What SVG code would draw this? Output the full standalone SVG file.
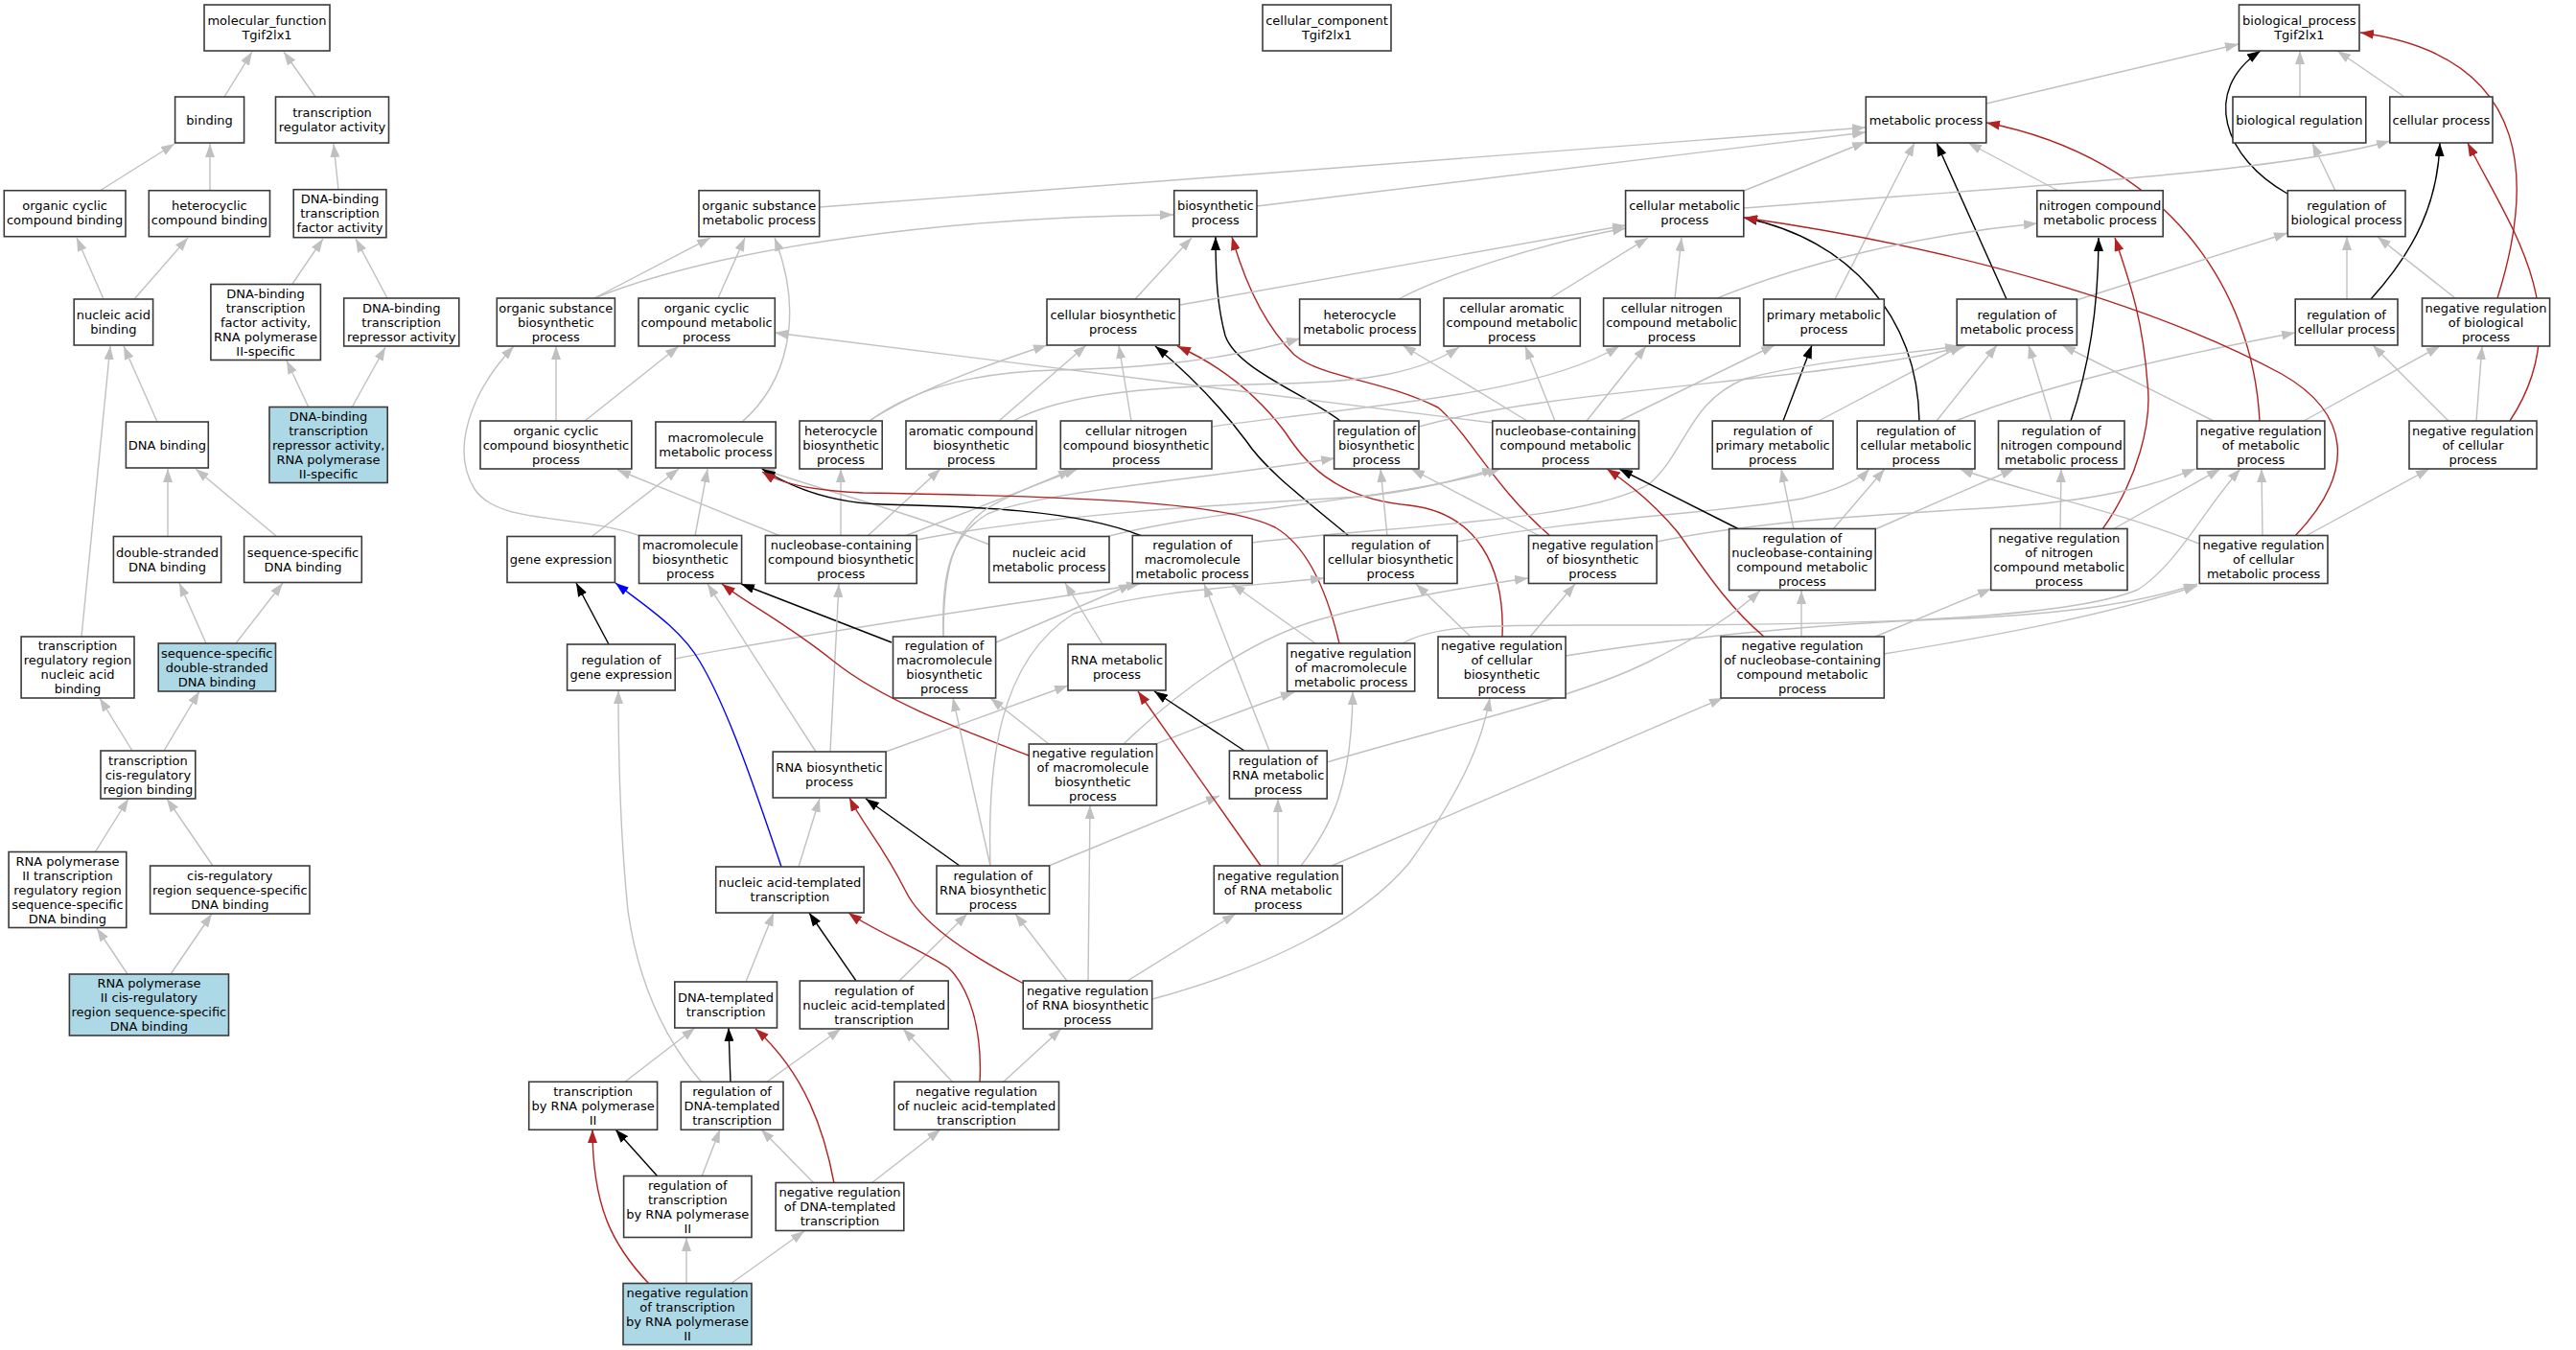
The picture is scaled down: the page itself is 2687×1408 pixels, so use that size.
<svg xmlns="http://www.w3.org/2000/svg" width="2687" height="1408" viewBox="0 0 2687 1408">
<style>
.n rect{fill:#fff;stroke:#3a3a3a;stroke-width:1.6}
.n.hl rect{fill:#add8e6}
text{font-family:"DejaVu Sans","Liberation Sans",sans-serif;font-size:13px;text-anchor:middle;fill:#000}
#edges path{fill:none;stroke-width:1.4}
.g{stroke:#c0c0c0;marker-end:url(#mg)}
.k{stroke:#000;marker-end:url(#mk)}
.r{stroke:#b22222;marker-end:url(#mr)}
.b{stroke:#0000ff;marker-end:url(#mb)}
</style>
<defs>
<marker id="mg" viewBox="0 0 14 10" refX="14" refY="5" markerWidth="14" markerHeight="10" markerUnits="userSpaceOnUse" orient="auto"><path d="M0,0L14,5L0,10z" fill="#c0c0c0"/></marker>
<marker id="mk" viewBox="0 0 14 10" refX="14" refY="5" markerWidth="14" markerHeight="10" markerUnits="userSpaceOnUse" orient="auto"><path d="M0,0L14,5L0,10z" fill="#000"/></marker>
<marker id="mr" viewBox="0 0 14 10" refX="14" refY="5" markerWidth="14" markerHeight="10" markerUnits="userSpaceOnUse" orient="auto"><path d="M0,0L14,5L0,10z" fill="#b22222"/></marker>
<marker id="mb" viewBox="0 0 14 10" refX="14" refY="5" markerWidth="14" markerHeight="10" markerUnits="userSpaceOnUse" orient="auto"><path d="M0,0L14,5L0,10z" fill="#0000ff"/></marker>
</defs>
<rect width="2687" height="1408" fill="#fff"/>
<g id="edges">
<path class="g" d="M234,101L263,54"/>
<path class="g" d="M329,101L296,54"/>
<path class="g" d="M104,199L182,150"/>
<path class="g" d="M219,199L219,150"/>
<path class="g" d="M353,198L348,150"/>
<path class="g" d="M108,312L80,248"/>
<path class="g" d="M140,312L196,248"/>
<path class="g" d="M305,296L337,249"/>
<path class="g" d="M404,311L371,249"/>
<path class="g" d="M322,425L299,376"/>
<path class="g" d="M367,425L402,362"/>
<path class="g" d="M164,440L129,361"/>
<path class="g" d="M85,664L115,361"/>
<path class="g" d="M175,559L175,489"/>
<path class="g" d="M288,559L204,489"/>
<path class="g" d="M215,671L187,608"/>
<path class="g" d="M246,671L295,608"/>
<path class="g" d="M138,783L104,728"/>
<path class="g" d="M171,783L208,721"/>
<path class="g" d="M99,889L134,833"/>
<path class="g" d="M222,903L174,833"/>
<path class="g" d="M133,1016L101,968"/>
<path class="g" d="M178,1016L221,953"/>
<path class="g" d="M2072,108L2335,46"/>
<path class="g" d="M2399,101L2399,53"/>
<path class="g" d="M2508,101L2438,53"/>
<path class="k" d="M2386,202C2320,165 2295,95 2358,53"/>
<path class="r" d="M2605,311C2640,200 2650,60 2462,34"/>
<path class="g" d="M855,216L1946,133"/>
<path class="g" d="M1311,215L1946,138"/>
<path class="g" d="M1819,199L1946,148"/>
<path class="g" d="M1914,312L1997,149"/>
<path class="g" d="M2147,199L2053,149"/>
<path class="k" d="M2093,312L2020,149"/>
<path class="r" d="M2357,439C2350,300 2260,165 2072,128"/>
<path class="g" d="M1819,217C2100,195 2380,180 2493,147"/>
<path class="g" d="M2436,199L2412,149"/>
<path class="k" d="M2473,312C2520,260 2543,210 2545,149"/>
<path class="r" d="M2618,439C2690,330 2620,240 2574,149"/>
<path class="g" d="M2166,313L2386,243"/>
<path class="g" d="M2448,312L2448,247"/>
<path class="g" d="M2561,311L2480,247"/>
<path class="g" d="M2040,439C2150,395 2300,365 2394,347"/>
<path class="g" d="M2020,439L2083,360"/>
<path class="g" d="M2140,439L2116,360"/>
<path class="g" d="M2309,439L2151,360"/>
<path class="g" d="M2403,439L2545,361"/>
<path class="g" d="M2554,439L2475,360"/>
<path class="g" d="M2583,439L2589,361"/>
<path class="g" d="M1897,439L2047,360"/>
<path class="k" d="M1860,439L1890,360"/>
<path class="k" d="M2002,439C2000,330 1930,250 1819,227"/>
<path class="r" d="M2394,559C2460,490 2450,430 2380,390C2250,320 2050,260 1819,227"/>
<path class="r" d="M2193,552C2230,500 2245,440 2240,400C2235,330 2220,290 2206,248"/>
<path class="k" d="M2160,439C2180,380 2189,320 2189,248"/>
<path class="r" d="M1617,559C1560,510 1530,450 1500,425C1440,395 1380,395 1350,370C1320,340 1300,300 1285,247"/>
<path class="k" d="M1398,439C1360,410 1290,385 1278,350C1270,320 1268,290 1268,247"/>
<path class="k" d="M1407,559C1360,520 1320,490 1300,460C1270,420 1240,390 1205,361"/>
<path class="r" d="M1567,664C1570,590 1540,535 1470,527C1390,520 1360,480 1340,450C1310,410 1270,380 1228,361"/>
<path class="g" d="M620,311C760,255 1000,226 1224,224"/>
<path class="g" d="M620,311L741,248"/>
<path class="g" d="M749,311L777,248"/>
<path class="g" d="M774,440C820,400 840,330 808,248"/>
<path class="g" d="M1184,312L1243,248"/>
<path class="g" d="M1231,318L1696,235"/>
<path class="g" d="M1459,312C1500,290 1600,255 1696,238"/>
<path class="g" d="M1617,311L1719,248"/>
<path class="g" d="M1747,311L1754,248"/>
<path class="g" d="M1791,311C1880,275 2000,245 2125,233"/>
<path class="g" d="M580,439L580,361"/>
<path class="g" d="M610,439L708,361"/>
<path class="g" d="M907,439C950,410 1030,380 1092,360"/>
<path class="g" d="M907,439C960,400 1030,388 1100,386C1200,384 1280,375 1356,353"/>
<path class="g" d="M1042,439L1133,360"/>
<path class="g" d="M1057,439C1110,410 1200,403 1340,400C1420,398 1480,390 1522,362"/>
<path class="g" d="M1180,439L1167,360"/>
<path class="g" d="M1264,445C1400,425 1600,415 1689,361"/>
<path class="g" d="M1480,445C1620,405 1900,398 2050,361"/>
<path class="g" d="M1593,439L1463,360"/>
<path class="g" d="M1622,439L1591,361"/>
<path class="g" d="M1655,439L1717,361"/>
<path class="g" d="M1689,439L1851,360"/>
<path class="g" d="M1557,441L808,347"/>
<path class="g" d="M618,559L708,489"/>
<path class="g" d="M725,559L738,489"/>
<path class="g" d="M668,559C600,535 520,548 495,510C470,470 490,410 536,361"/>
<path class="g" d="M814,559L644,490"/>
<path class="g" d="M877,559L877,489"/>
<path class="g" d="M905,559L981,489"/>
<path class="g" d="M944,559L1124,489"/>
<path class="g" d="M956,563C1100,535 1300,525 1420,518C1480,512 1520,500 1560,489"/>
<path class="g" d="M1146,562C1260,530 1460,522 1565,489"/>
<path class="g" d="M1032,568C950,535 870,515 794,489"/>
<path class="k" d="M1191,559C1120,530 1000,528 920,526C860,524 820,505 795,489"/>
<path class="g" d="M1306,566C1450,548 1650,545 1720,505C1760,470 1760,420 1820,395C1900,375 1980,370 2043,361"/>
<path class="g" d="M1447,559L1440,489"/>
<path class="g" d="M1520,565C1650,540 1800,535 1880,520C1920,510 1940,500 1950,489"/>
<path class="g" d="M1606,559L1472,489"/>
<path class="g" d="M1728,565C1850,540 2000,535 2100,528C2200,520 2250,505 2290,489"/>
<path class="k" d="M1814,552L1689,489"/>
<path class="g" d="M1871,552L1858,489"/>
<path class="g" d="M1912,552L1966,489"/>
<path class="g" d="M1956,552L2101,489"/>
<path class="g" d="M2149,552L2150,489"/>
<path class="g" d="M2204,552L2316,489"/>
<path class="g" d="M2294,567C2200,530 2100,510 2044,489"/>
<path class="g" d="M2360,559L2359,489"/>
<path class="g" d="M2405,559L2534,489"/>
<path class="k" d="M635,672L601,608"/>
<path class="g" d="M704,687C900,650 1100,625 1189,609"/>
<path class="k" d="M930,670L773,609"/>
<path class="g" d="M1039,670L1181,609"/>
<path class="g" d="M984,664C982,600 990,560 1030,536C1090,512 1250,500 1392,478"/>
<path class="g" d="M984,664C984,600 992,555 1030,530C1060,512 1095,500 1118,490"/>
<path class="g" d="M1150,672L1111,608"/>
<path class="g" d="M1372,671L1285,609"/>
<path class="g" d="M1463,671C1500,650 1560,652 1700,652C1900,652 2150,648 2230,615C2270,590 2300,530 2337,489"/>
<path class="r" d="M1397,671C1385,620 1365,570 1330,550C1280,525 1150,518 900,514C850,512 815,505 795,492"/>
<path class="g" d="M1534,664L1477,609"/>
<path class="g" d="M1596,664L1643,609"/>
<path class="g" d="M1633,684C1750,665 1900,650 2050,645C2150,640 2230,630 2292,609"/>
<path class="g" d="M1879,664L1879,616"/>
<path class="g" d="M1965,682C2100,660 2200,640 2292,611"/>
<path class="g" d="M1956,664L2077,614"/>
<path class="r" d="M1840,664C1800,630 1775,590 1750,555C1725,525 1700,505 1676,489"/>
<path class="g" d="M851,784L738,609"/>
<path class="g" d="M866,784L875,609"/>
<path class="g" d="M924,784L1114,715"/>
<path class="g" d="M1094,776L1033,728"/>
<path class="g" d="M1200,778C1260,755 1310,735 1350,722"/>
<path class="g" d="M1172,776C1230,720 1300,670 1370,648C1450,625 1530,612 1594,603"/>
<path class="r" d="M1073,788C1000,760 920,730 870,690C820,650 780,630 753,609"/>
<path class="k" d="M1298,783L1204,721"/>
<path class="g" d="M1384,795C1500,760 1640,730 1720,690C1780,660 1810,640 1836,616"/>
<path class="g" d="M1324,783L1256,609"/>
<path class="g" d="M833,904L855,833"/>
<path class="b" d="M815,904C790,830 760,740 730,690C710,655 670,630 642,608"/>
<path class="k" d="M1001,903L903,833"/>
<path class="g" d="M1033,903L994,728"/>
<path class="g" d="M1033,903C1030,800 1040,690 1120,640C1200,615 1300,612 1381,603"/>
<path class="g" d="M1094,903L1272,830"/>
<path class="g" d="M1333,903L1333,833"/>
<path class="r" d="M1315,903L1187,721"/>
<path class="g" d="M1389,903L1797,728"/>
<path class="g" d="M1357,903C1390,860 1410,820 1411,721"/>
<path class="g" d="M778,1024L807,952"/>
<path class="k" d="M893,1023L844,952"/>
<path class="g" d="M938,1023L1009,953"/>
<path class="g" d="M1113,1023L1059,953"/>
<path class="g" d="M1176,1023L1289,953"/>
<path class="g" d="M1202,1042C1320,1010 1420,960 1470,900C1520,830 1545,780 1554,728"/>
<path class="g" d="M1135,1023L1137,840"/>
<path class="r" d="M1068,1026C1000,990 960,960 945,930C920,880 900,860 886,832"/>
<path class="g" d="M651,1129L725,1072"/>
<path class="k" d="M762,1129L760,1072"/>
<path class="g" d="M799,1129L877,1073"/>
<path class="g" d="M732,1129C690,1080 665,1020 655,950C648,880 645,800 645,720"/>
<path class="g" d="M994,1129L942,1073"/>
<path class="g" d="M1046,1129L1107,1073"/>
<path class="r" d="M1022,1129C1025,1070 1010,1030 990,1010C960,990 910,970 885,952"/>
<path class="k" d="M686,1227L642,1178"/>
<path class="g" d="M732,1227L751,1178"/>
<path class="g" d="M849,1234L794,1178"/>
<path class="g" d="M909,1234L981,1178"/>
<path class="r" d="M870,1234C860,1180 840,1120 788,1073"/>
<path class="g" d="M716,1339L716,1291"/>
<path class="g" d="M762,1339L839,1284"/>
<path class="r" d="M677,1339C640,1300 618,1260 618,1178"/>
</g>
<g id="n-mf" class="n"><rect x="213" y="5" width="131" height="48"/><text><tspan x="278.5" y="26">molecular_function</tspan><tspan x="278.5" y="41">Tgif2lx1</tspan></text></g>
<g id="n-cc" class="n"><rect x="1317" y="5" width="134" height="48"/><text><tspan x="1384" y="26">cellular_component</tspan><tspan x="1384" y="41">Tgif2lx1</tspan></text></g>
<g id="n-bp" class="n"><rect x="2335.5" y="5" width="125.5" height="48"/><text><tspan x="2398.3" y="26">biological_process</tspan><tspan x="2398.3" y="41">Tgif2lx1</tspan></text></g>
<g id="n-bind" class="n"><rect x="182.6" y="101" width="72" height="48"/><text><tspan x="218.6" y="129.5">binding</tspan></text></g>
<g id="n-tra" class="n"><rect x="287.5" y="101" width="118" height="48"/><text><tspan x="346.5" y="122">transcription</tspan><tspan x="346.5" y="137">regulator activity</tspan></text></g>
<g id="n-mp" class="n"><rect x="1946.3" y="101" width="125.5" height="48"/><text><tspan x="2009" y="129.5">metabolic process</tspan></text></g>
<g id="n-breg" class="n"><rect x="2329" y="101" width="138.8" height="48"/><text><tspan x="2398.4" y="129.5">biological regulation</tspan></text></g>
<g id="n-cp" class="n"><rect x="2492.8" y="101" width="107.2" height="48"/><text><tspan x="2546.4" y="129.5">cellular process</tspan></text></g>
<g id="n-occb" class="n"><rect x="4.3" y="198.7" width="126.7" height="48"/><text><tspan x="67.6" y="219.2">organic cyclic</tspan><tspan x="67.6" y="234.2">compound binding</tspan></text></g>
<g id="n-hcb" class="n"><rect x="155.3" y="198.7" width="126.2" height="48"/><text><tspan x="218.4" y="219.2">heterocyclic</tspan><tspan x="218.4" y="234.2">compound binding</tspan></text></g>
<g id="n-dbtfa" class="n"><rect x="306.2" y="197.7" width="96.7" height="50"/><text><tspan x="354.5" y="211.7">DNA-binding</tspan><tspan x="354.5" y="226.7">transcription</tspan><tspan x="354.5" y="241.7">factor activity</tspan></text></g>
<g id="n-osmp" class="n"><rect x="729" y="198.7" width="125.7" height="48"/><text><tspan x="791.8" y="219.2">organic substance</tspan><tspan x="791.8" y="234.2">metabolic process</tspan></text></g>
<g id="n-bsp" class="n"><rect x="1224.7" y="198.7" width="86.3" height="48"/><text><tspan x="1267.8" y="219.2">biosynthetic</tspan><tspan x="1267.8" y="234.2">process</tspan></text></g>
<g id="n-cmp" class="n"><rect x="1695.6" y="198.7" width="123.2" height="48"/><text><tspan x="1757.2" y="219.2">cellular metabolic</tspan><tspan x="1757.2" y="234.2">process</tspan></text></g>
<g id="n-ncmp" class="n"><rect x="2124.8" y="198.7" width="131.4" height="48"/><text><tspan x="2190.5" y="219.2">nitrogen compound</tspan><tspan x="2190.5" y="234.2">metabolic process</tspan></text></g>
<g id="n-rbiop" class="n"><rect x="2386.3" y="198.7" width="122.7" height="48"/><text><tspan x="2447.6" y="219.2">regulation of</tspan><tspan x="2447.6" y="234.2">biological process</tspan></text></g>
<g id="n-nab" class="n"><rect x="77.2" y="312" width="82.4" height="48"/><text><tspan x="118.4" y="332.5">nucleic acid</tspan><tspan x="118.4" y="347.5">binding</tspan></text></g>
<g id="n-dbtf2" class="n"><rect x="219.9" y="296.5" width="114.5" height="79"/><text><tspan x="277.1" y="310.5">DNA-binding</tspan><tspan x="277.1" y="325.5">transcription</tspan><tspan x="277.1" y="340.5">factor activity,</tspan><tspan x="277.1" y="355.5">RNA polymerase</tspan><tspan x="277.1" y="370.5">II-specific</tspan></text></g>
<g id="n-dbtra" class="n"><rect x="358.7" y="311" width="120.1" height="50"/><text><tspan x="418.7" y="325.5">DNA-binding</tspan><tspan x="418.7" y="340.5">transcription</tspan><tspan x="418.7" y="355.5">repressor activity</tspan></text></g>
<g id="n-osbp" class="n"><rect x="518.3" y="311" width="123.1" height="50"/><text><tspan x="579.8" y="325.5">organic substance</tspan><tspan x="579.8" y="340.5">biosynthetic</tspan><tspan x="579.8" y="355.5">process</tspan></text></g>
<g id="n-occmp" class="n"><rect x="666" y="311" width="142.3" height="50"/><text><tspan x="737.1" y="325.5">organic cyclic</tspan><tspan x="737.1" y="340.5">compound metabolic</tspan><tspan x="737.1" y="355.5">process</tspan></text></g>
<g id="n-cbp" class="n"><rect x="1092" y="312" width="138.3" height="48"/><text><tspan x="1161.1" y="332.5">cellular biosynthetic</tspan><tspan x="1161.1" y="347.5">process</tspan></text></g>
<g id="n-hmp" class="n"><rect x="1355.6" y="312" width="125.7" height="48"/><text><tspan x="1418.4" y="332.5">heterocycle</tspan><tspan x="1418.4" y="347.5">metabolic process</tspan></text></g>
<g id="n-camp" class="n"><rect x="1506" y="311" width="142.3" height="50"/><text><tspan x="1577.1" y="325.5">cellular aromatic</tspan><tspan x="1577.1" y="340.5">compound metabolic</tspan><tspan x="1577.1" y="355.5">process</tspan></text></g>
<g id="n-cncmp" class="n"><rect x="1672.6" y="311" width="142.3" height="50"/><text><tspan x="1743.7" y="325.5">cellular nitrogen</tspan><tspan x="1743.7" y="340.5">compound metabolic</tspan><tspan x="1743.7" y="355.5">process</tspan></text></g>
<g id="n-pmp" class="n"><rect x="1839.6" y="312" width="125.7" height="48"/><text><tspan x="1902.4" y="332.5">primary metabolic</tspan><tspan x="1902.4" y="347.5">process</tspan></text></g>
<g id="n-rmp" class="n"><rect x="2041.2" y="312" width="125.2" height="48"/><text><tspan x="2103.8" y="332.5">regulation of</tspan><tspan x="2103.8" y="347.5">metabolic process</tspan></text></g>
<g id="n-rcp" class="n"><rect x="2394.2" y="312" width="106.8" height="48"/><text><tspan x="2447.6" y="332.5">regulation of</tspan><tspan x="2447.6" y="347.5">cellular process</tspan></text></g>
<g id="n-nrbp" class="n"><rect x="2526.5" y="311" width="133.1" height="50"/><text><tspan x="2593" y="325.5">negative regulation</tspan><tspan x="2593" y="340.5">of biological</tspan><tspan x="2593" y="355.5">process</tspan></text></g>
<g id="n-dnab" class="n"><rect x="131.4" y="440" width="85.9" height="48"/><text><tspan x="174.3" y="468.5">DNA binding</tspan></text></g>
<g id="n-dbtr2" class="n hl"><rect x="281" y="424.5" width="123.2" height="79"/><text><tspan x="342.6" y="438.5">DNA-binding</tspan><tspan x="342.6" y="453.5">transcription</tspan><tspan x="342.6" y="468.5">repressor activity,</tspan><tspan x="342.6" y="483.5">RNA polymerase</tspan><tspan x="342.6" y="498.5">II-specific</tspan></text></g>
<g id="n-occbp" class="n"><rect x="501" y="439" width="157.8" height="50"/><text><tspan x="579.9" y="453.5">organic cyclic</tspan><tspan x="579.9" y="468.5">compound biosynthetic</tspan><tspan x="579.9" y="483.5">process</tspan></text></g>
<g id="n-mmp" class="n"><rect x="683.9" y="440" width="125.3" height="48"/><text><tspan x="746.5" y="461">macromolecule</tspan><tspan x="746.5" y="476">metabolic process</tspan></text></g>
<g id="n-hbp" class="n"><rect x="834" y="439" width="86.2" height="50"/><text><tspan x="877.1" y="453.5">heterocycle</tspan><tspan x="877.1" y="468.5">biosynthetic</tspan><tspan x="877.1" y="483.5">process</tspan></text></g>
<g id="n-acbp" class="n"><rect x="945" y="439" width="136" height="50"/><text><tspan x="1013" y="453.5">aromatic compound</tspan><tspan x="1013" y="468.5">biosynthetic</tspan><tspan x="1013" y="483.5">process</tspan></text></g>
<g id="n-cncbp" class="n"><rect x="1106.3" y="439" width="157.7" height="50"/><text><tspan x="1185.1" y="453.5">cellular nitrogen</tspan><tspan x="1185.1" y="468.5">compound biosynthetic</tspan><tspan x="1185.1" y="483.5">process</tspan></text></g>
<g id="n-rbp" class="n"><rect x="1391.6" y="439" width="88.4" height="50"/><text><tspan x="1435.8" y="453.5">regulation of</tspan><tspan x="1435.8" y="468.5">biosynthetic</tspan><tspan x="1435.8" y="483.5">process</tspan></text></g>
<g id="n-ncm" class="n"><rect x="1556.8" y="439" width="152.7" height="50"/><text><tspan x="1633.1" y="453.5">nucleobase-containing</tspan><tspan x="1633.1" y="468.5">compound metabolic</tspan><tspan x="1633.1" y="483.5">process</tspan></text></g>
<g id="n-rpmp" class="n"><rect x="1786.2" y="439" width="125.8" height="50"/><text><tspan x="1849.1" y="453.5">regulation of</tspan><tspan x="1849.1" y="468.5">primary metabolic</tspan><tspan x="1849.1" y="483.5">process</tspan></text></g>
<g id="n-rcmp" class="n"><rect x="1937.2" y="439" width="122.8" height="50"/><text><tspan x="1998.6" y="453.5">regulation of</tspan><tspan x="1998.6" y="468.5">cellular metabolic</tspan><tspan x="1998.6" y="483.5">process</tspan></text></g>
<g id="n-rncmp" class="n"><rect x="2084.5" y="439" width="131.5" height="50"/><text><tspan x="2150.2" y="453.5">regulation of</tspan><tspan x="2150.2" y="468.5">nitrogen compound</tspan><tspan x="2150.2" y="483.5">metabolic process</tspan></text></g>
<g id="n-nrmp" class="n"><rect x="2291.7" y="439" width="133.2" height="50"/><text><tspan x="2358.3" y="453.5">negative regulation</tspan><tspan x="2358.3" y="468.5">of metabolic</tspan><tspan x="2358.3" y="483.5">process</tspan></text></g>
<g id="n-nrcp" class="n"><rect x="2513" y="439" width="133" height="50"/><text><tspan x="2579.5" y="453.5">negative regulation</tspan><tspan x="2579.5" y="468.5">of cellular</tspan><tspan x="2579.5" y="483.5">process</tspan></text></g>
<g id="n-dsdb" class="n"><rect x="118.4" y="559.5" width="112.3" height="48"/><text><tspan x="174.5" y="580.5">double-stranded</tspan><tspan x="174.5" y="595.5">DNA binding</tspan></text></g>
<g id="n-ssdb" class="n"><rect x="254.6" y="559.5" width="122.7" height="48"/><text><tspan x="316" y="580.5">sequence-specific</tspan><tspan x="316" y="595.5">DNA binding</tspan></text></g>
<g id="n-ge" class="n"><rect x="529" y="559.5" width="112.4" height="48"/><text><tspan x="585.2" y="588">gene expression</tspan></text></g>
<g id="n-mbp" class="n"><rect x="666.5" y="558.5" width="107.1" height="50"/><text><tspan x="720" y="573">macromolecule</tspan><tspan x="720" y="588">biosynthetic</tspan><tspan x="720" y="603">process</tspan></text></g>
<g id="n-nbcb" class="n"><rect x="798.4" y="558.5" width="157.8" height="50"/><text><tspan x="877.3" y="573">nucleobase-containing</tspan><tspan x="877.3" y="588">compound biosynthetic</tspan><tspan x="877.3" y="603">process</tspan></text></g>
<g id="n-namp" class="n"><rect x="1031.7" y="559.5" width="125.3" height="48"/><text><tspan x="1094.3" y="580.5">nucleic acid</tspan><tspan x="1094.3" y="595.5">metabolic process</tspan></text></g>
<g id="n-rmmp" class="n"><rect x="1181.3" y="558.5" width="124.9" height="50"/><text><tspan x="1243.7" y="573">regulation of</tspan><tspan x="1243.7" y="588">macromolecule</tspan><tspan x="1243.7" y="603">metabolic process</tspan></text></g>
<g id="n-rcbp" class="n"><rect x="1381.2" y="558.5" width="138.8" height="50"/><text><tspan x="1450.6" y="573">regulation of</tspan><tspan x="1450.6" y="588">cellular biosynthetic</tspan><tspan x="1450.6" y="603">process</tspan></text></g>
<g id="n-nrbsp" class="n"><rect x="1594.5" y="558.5" width="133.6" height="50"/><text><tspan x="1661.3" y="573">negative regulation</tspan><tspan x="1661.3" y="588">of biosynthetic</tspan><tspan x="1661.3" y="603">process</tspan></text></g>
<g id="n-rncm" class="n"><rect x="1803.6" y="551.5" width="152.6" height="64"/><text><tspan x="1879.9" y="565.5">regulation of</tspan><tspan x="1879.9" y="580.5">nucleobase-containing</tspan><tspan x="1879.9" y="595.5">compound metabolic</tspan><tspan x="1879.9" y="610.5">process</tspan></text></g>
<g id="n-nrncmp" class="n"><rect x="2076.7" y="551.5" width="142.3" height="64"/><text><tspan x="2147.8" y="565.5">negative regulation</tspan><tspan x="2147.8" y="580.5">of nitrogen</tspan><tspan x="2147.8" y="595.5">compound metabolic</tspan><tspan x="2147.8" y="610.5">process</tspan></text></g>
<g id="n-nrcmp" class="n"><rect x="2294.3" y="558.5" width="133.7" height="50"/><text><tspan x="2361.1" y="573">negative regulation</tspan><tspan x="2361.1" y="588">of cellular</tspan><tspan x="2361.1" y="603">metabolic process</tspan></text></g>
<g id="n-trrnab" class="n"><rect x="22.1" y="664" width="117.9" height="64"/><text><tspan x="81" y="678">transcription</tspan><tspan x="81" y="693">regulatory region</tspan><tspan x="81" y="708">nucleic acid</tspan><tspan x="81" y="723">binding</tspan></text></g>
<g id="n-ssdsdb" class="n hl"><rect x="165.2" y="671" width="122.3" height="50"/><text><tspan x="226.3" y="685.5">sequence-specific</tspan><tspan x="226.3" y="700.5">double-stranded</tspan><tspan x="226.3" y="715.5">DNA binding</tspan></text></g>
<g id="n-rge" class="n"><rect x="591.6" y="672" width="112.6" height="48"/><text><tspan x="647.9" y="692.5">regulation of</tspan><tspan x="647.9" y="707.5">gene expression</tspan></text></g>
<g id="n-rmbp" class="n"><rect x="931.5" y="664" width="107.1" height="64"/><text><tspan x="985" y="678">regulation of</tspan><tspan x="985" y="693">macromolecule</tspan><tspan x="985" y="708">biosynthetic</tspan><tspan x="985" y="723">process</tspan></text></g>
<g id="n-rnamp" class="n"><rect x="1114" y="672" width="102" height="48"/><text><tspan x="1165" y="692.5">RNA metabolic</tspan><tspan x="1165" y="707.5">process</tspan></text></g>
<g id="n-nrmmp" class="n"><rect x="1342.6" y="671" width="133.1" height="50"/><text><tspan x="1409.1" y="685.5">negative regulation</tspan><tspan x="1409.1" y="700.5">of macromolecule</tspan><tspan x="1409.1" y="715.5">metabolic process</tspan></text></g>
<g id="n-nrcbp" class="n"><rect x="1500" y="664" width="133.1" height="64"/><text><tspan x="1566.5" y="678">negative regulation</tspan><tspan x="1566.5" y="693">of cellular</tspan><tspan x="1566.5" y="708">biosynthetic</tspan><tspan x="1566.5" y="723">process</tspan></text></g>
<g id="n-nrncm" class="n"><rect x="1795" y="664" width="170.3" height="64"/><text><tspan x="1880.1" y="678">negative regulation</tspan><tspan x="1880.1" y="693">of nucleobase-containing</tspan><tspan x="1880.1" y="708">compound metabolic</tspan><tspan x="1880.1" y="723">process</tspan></text></g>
<g id="n-tcrrb" class="n"><rect x="105" y="783" width="98.8" height="50"/><text><tspan x="154.4" y="797.5">transcription</tspan><tspan x="154.4" y="812.5">cis-regulatory</tspan><tspan x="154.4" y="827.5">region binding</tspan></text></g>
<g id="n-rnabp" class="n"><rect x="806.2" y="784" width="117.9" height="48"/><text><tspan x="865.1" y="804.5">RNA biosynthetic</tspan><tspan x="865.1" y="819.5">process</tspan></text></g>
<g id="n-nrmbp" class="n"><rect x="1073.3" y="776" width="133.2" height="64"/><text><tspan x="1139.9" y="790">negative regulation</tspan><tspan x="1139.9" y="805">of macromolecule</tspan><tspan x="1139.9" y="820">biosynthetic</tspan><tspan x="1139.9" y="835">process</tspan></text></g>
<g id="n-rrmp" class="n"><rect x="1282.4" y="783" width="101.8" height="50"/><text><tspan x="1333.3" y="797.5">regulation of</tspan><tspan x="1333.3" y="812.5">RNA metabolic</tspan><tspan x="1333.3" y="827.5">process</tspan></text></g>
<g id="n-rp2trr" class="n"><rect x="9.1" y="888.5" width="122.7" height="79"/><text><tspan x="70.4" y="902.5">RNA polymerase</tspan><tspan x="70.4" y="917.5">II transcription</tspan><tspan x="70.4" y="932.5">regulatory region</tspan><tspan x="70.4" y="947.5">sequence-specific</tspan><tspan x="70.4" y="962.5">DNA binding</tspan></text></g>
<g id="n-crrssdb" class="n"><rect x="156.6" y="903" width="166.4" height="50"/><text><tspan x="239.8" y="917.5">cis-regulatory</tspan><tspan x="239.8" y="932.5">region sequence-specific</tspan><tspan x="239.8" y="947.5">DNA binding</tspan></text></g>
<g id="n-natt" class="n"><rect x="746.7" y="904" width="154.4" height="48"/><text><tspan x="823.9" y="924.5">nucleic acid-templated</tspan><tspan x="823.9" y="939.5">transcription</tspan></text></g>
<g id="n-rrbp" class="n"><rect x="977" y="903" width="117.6" height="50"/><text><tspan x="1035.8" y="917.5">regulation of</tspan><tspan x="1035.8" y="932.5">RNA biosynthetic</tspan><tspan x="1035.8" y="947.5">process</tspan></text></g>
<g id="n-nrrmp" class="n"><rect x="1266.3" y="903" width="133.9" height="50"/><text><tspan x="1333.2" y="917.5">negative regulation</tspan><tspan x="1333.2" y="932.5">of RNA metabolic</tspan><tspan x="1333.2" y="947.5">process</tspan></text></g>
<g id="n-rp2crr" class="n hl"><rect x="72.4" y="1016" width="166.1" height="64"/><text><tspan x="155.4" y="1030">RNA polymerase</tspan><tspan x="155.4" y="1045">II cis-regulatory</tspan><tspan x="155.4" y="1060">region sequence-specific</tspan><tspan x="155.4" y="1075">DNA binding</tspan></text></g>
<g id="n-dtt" class="n"><rect x="703.8" y="1024" width="106.7" height="48"/><text><tspan x="757.1" y="1044.5">DNA-templated</tspan><tspan x="757.1" y="1059.5">transcription</tspan></text></g>
<g id="n-rnatt" class="n"><rect x="834.3" y="1023" width="154.9" height="50"/><text><tspan x="911.7" y="1037.5">regulation of</tspan><tspan x="911.7" y="1052.5">nucleic acid-templated</tspan><tspan x="911.7" y="1067.5">transcription</tspan></text></g>
<g id="n-nrrbp" class="n"><rect x="1067.2" y="1023" width="134.5" height="50"/><text><tspan x="1134.4" y="1037.5">negative regulation</tspan><tspan x="1134.4" y="1052.5">of RNA biosynthetic</tspan><tspan x="1134.4" y="1067.5">process</tspan></text></g>
<g id="n-trp2" class="n"><rect x="551.7" y="1128.3" width="133.9" height="50"/><text><tspan x="618.6" y="1142.8">transcription</tspan><tspan x="618.6" y="1157.8">by RNA polymerase</tspan><tspan x="618.6" y="1172.8">II</tspan></text></g>
<g id="n-rdtt" class="n"><rect x="710.3" y="1128.3" width="106.7" height="50"/><text><tspan x="763.6" y="1142.8">regulation of</tspan><tspan x="763.6" y="1157.8">DNA-templated</tspan><tspan x="763.6" y="1172.8">transcription</tspan></text></g>
<g id="n-nrnatt" class="n"><rect x="932.8" y="1128.3" width="171.7" height="50"/><text><tspan x="1018.6" y="1142.8">negative regulation</tspan><tspan x="1018.6" y="1157.8">of nucleic acid-templated</tspan><tspan x="1018.6" y="1172.8">transcription</tspan></text></g>
<g id="n-rtrp2" class="n"><rect x="650.6" y="1226.5" width="133.4" height="64"/><text><tspan x="717.3" y="1240.5">regulation of</tspan><tspan x="717.3" y="1255.5">transcription</tspan><tspan x="717.3" y="1270.5">by RNA polymerase</tspan><tspan x="717.3" y="1285.5">II</tspan></text></g>
<g id="n-nrdtt" class="n"><rect x="809.2" y="1233.5" width="133.6" height="50"/><text><tspan x="876" y="1248">negative regulation</tspan><tspan x="876" y="1263">of DNA-templated</tspan><tspan x="876" y="1278">transcription</tspan></text></g>
<g id="n-nrtrp2" class="n hl"><rect x="650" y="1338.5" width="134" height="64"/><text><tspan x="717" y="1352.5">negative regulation</tspan><tspan x="717" y="1367.5">of transcription</tspan><tspan x="717" y="1382.5">by RNA polymerase</tspan><tspan x="717" y="1397.5">II</tspan></text></g>
</svg>
